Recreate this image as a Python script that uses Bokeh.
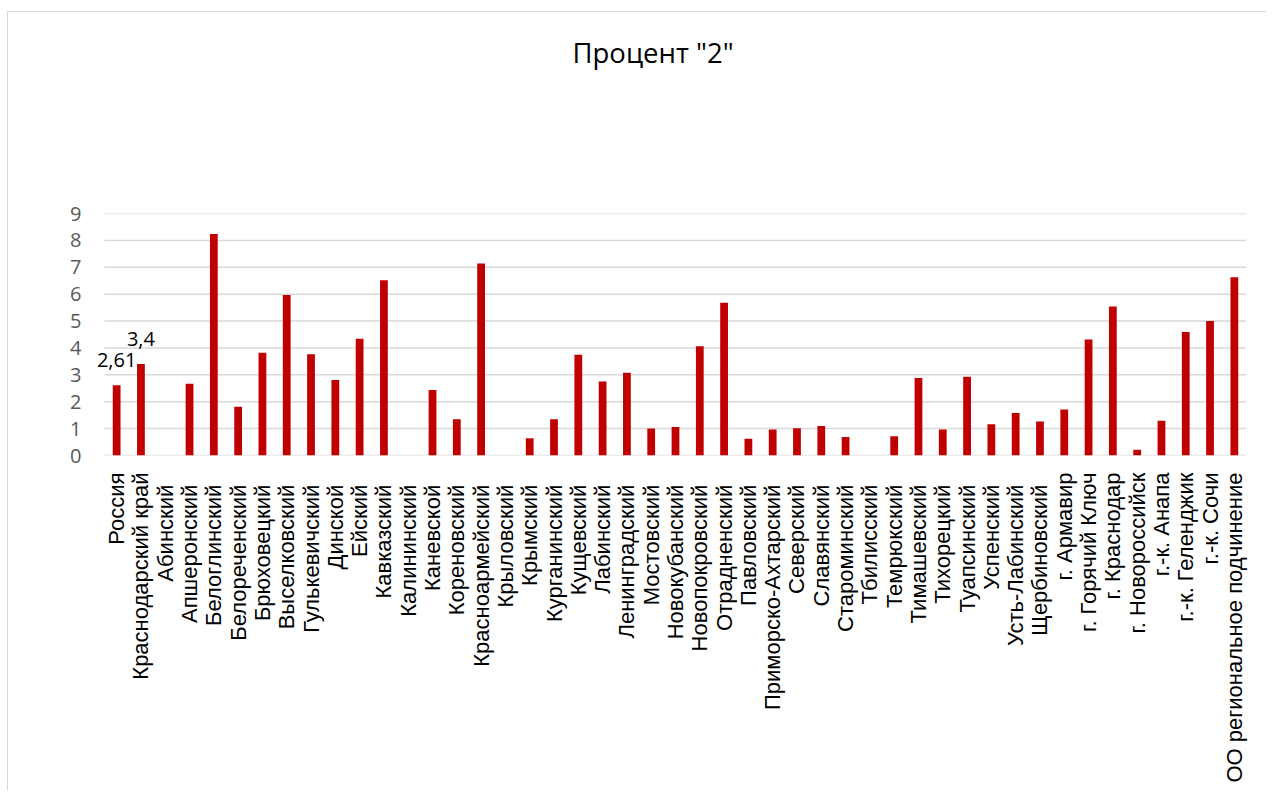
import math
from bokeh.plotting import figure
from bokeh.models import ColumnDataSource, FixedTicker, Range1d, LinearAxis, Title
from bokeh.core.properties import value
from bokeh.embed import file_html
from bokeh.resources import INLINE

title_text = 'Процент "2"'

categories = [
    "Россия", "Краснодарский край", "Абинский", "Апшеронский", "Белоглинский",
    "Белореченский", "Брюховецкий", "Выселковский", "Гулькевичский", "Динской",
    "Ейский", "Кавказский", "Калининский", "Каневской", "Кореновский",
    "Красноармейский", "Крыловский", "Крымский", "Курганинский", "Кущевский",
    "Лабинский", "Ленинградский", "Мостовский", "Новокубанский", "Новопокровский",
    "Отрадненский", "Павловский", "Приморско-Ахтарский", "Северский", "Славянский",
    "Староминский", "Тбилисский", "Темрюкский", "Тимашевский", "Тихорецкий",
    "Туапсинский", "Успенский", "Усть-Лабинский", "Щербиновский", "г. Армавир",
    "г. Горячий Ключ", "г. Краснодар", "г. Новороссийск", "г.-к. Анапа",
    "г.-к. Геленджик", "г.-к. Сочи", "ОО региональное подчинение",
]

values = [
    2.61, 3.4, 0.0, 2.67, 8.24,
    1.81, 3.82, 5.97, 3.77, 2.81,
    4.34, 6.52, 0.0, 2.44, 1.35,
    7.14, 0.0, 0.64, 1.35, 3.75,
    2.75, 3.08, 1.0, 1.06, 4.06,
    5.68, 0.62, 0.97, 1.01, 1.10,
    0.69, 0.0, 0.72, 2.88, 0.97,
    2.93, 1.16, 1.58, 1.26, 1.71,
    4.31, 5.54, 0.21, 1.29, 4.59,
    5.0, 6.63,
]

labeled_categories = ["Россия", "Краснодарский край"]
labeled_texts = ["2,61", "3,4"]
labeled_values = [2.61, 3.4]

y_ticks = [0, 1, 2, 3, 4, 5, 6, 7, 8, 9]

# In the source workbook the district names carry trailing spaces, so their
# rotated labels sit a little lower than those of the totals and cities.
city_like = {"Россия", "Краснодарский край", "г. Армавир", "г. Горячий Ключ",
             "г. Краснодар", "г. Новороссийск", "г.-к. Анапа", "г.-к. Геленджик",
             "г.-к. Сочи", "ОО региональное подчинение"}

n = len(categories)
pos = list(range(n))
label_map = {i: (c if c in city_like else c + "\u00a0\u00a0") for i, c in enumerate(categories)}

src = ColumnDataSource(dict(x=pos, val=values))
lab_pos = [categories.index(c) for c in labeled_categories]
lab_src = ColumnDataSource(dict(x=lab_pos, val=labeled_values, txt=labeled_texts))
grid_src = ColumnDataSource(dict(x0=[-0.5] * len(y_ticks), x1=[n - 0.5] * len(y_ticks),
                                 y=y_ticks))

unit_px = 1142 / n            # width of one category slot in pixels
left_extra = 14 / unit_px     # room on the left so the "2,61" label is not clipped

p = figure(
    x_range=Range1d(-0.5 - left_extra, n - 0.5),
    y_range=Range1d(0, 9),
    frame_width=1156, frame_height=242,
    min_border_left=82, min_border_right=20, min_border_top=201, min_border_bottom=335,
    output_backend="svg", toolbar_location=None,
    outline_line_color=None,
    margin=(11, 0, 0, 7),
)
p.title = None
p.styles = {"border-left": "1px solid #d9d9d9", "border-top": "1px solid #d9d9d9"}

# invisible spacer axis between the plot area and the title
spacer = LinearAxis(ticker=FixedTicker(ticks=[0]), axis_line_color=None,
                    major_tick_line_color=None, minor_tick_line_color=None,
                    major_tick_out=138, major_tick_in=0, minor_tick_out=0, minor_tick_in=0,
                    major_label_standoff=0, major_label_text_font_size="0px",
                    major_label_text_alpha=0, major_label_overrides={0: ""})
p.add_layout(spacer, "above")

title = Title(text=title_text, align="left", offset=482, text_font="Open Sans",
              text_font_size="27.5px", text_font_style="normal", text_color="#000000",
              standoff=10)
p.add_layout(title, "above")

p.xgrid.grid_line_color = None
p.ygrid.grid_line_color = None

p.segment(x0="x0", x1="x1", y0="y", y1="y", source=grid_src,
          line_color="#d9d9d9", line_width=1.5)

p.vbar(x="x", top="val", width=0.32, source=src, fill_color="#C00000", line_color=None)

p.text(x="x", y="val", text="txt", source=lab_src,
       text_font=value("Open Sans"), text_font_size="20px", text_color="#000000",
       text_align="center", text_baseline="alphabetic", y_offset=-25)

p.yaxis.ticker = FixedTicker(ticks=y_ticks)
p.yaxis.axis_line_color = None
p.yaxis.major_tick_line_color = None
p.yaxis.minor_tick_line_color = None
p.yaxis.major_tick_out = 0
p.yaxis.major_tick_in = 0
p.yaxis.major_label_standoff = 9
p.yaxis.major_label_text_font = "Open Sans"
p.yaxis.major_label_text_font_size = "20px"
p.yaxis.major_label_text_color = "#595959"

xax = p.below[0]
xax.ticker = FixedTicker(ticks=pos)
xax.major_label_overrides = label_map
xax.axis_line_color = None
xax.major_tick_line_color = None
xax.minor_tick_line_color = None
xax.major_tick_out = 0
xax.major_tick_in = 0
xax.major_label_orientation = math.pi / 2
xax.major_label_standoff = 17
xax.major_label_text_font = "Liberation Sans"
xax.major_label_text_font_size = "22px"
xax.major_label_text_color = "#000000"

open("out.html", "w").write(file_html(p, INLINE))
